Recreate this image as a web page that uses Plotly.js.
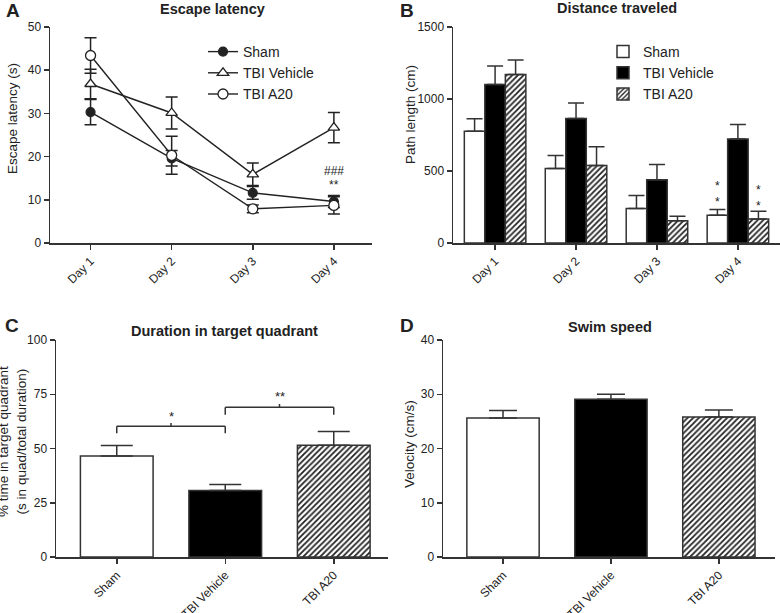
<!DOCTYPE html>
<html>
<head>
<meta charset="utf-8">
<script src="https://cdn.plot.ly/plotly-3.0.1.min.js"></script>
<style>html,body{margin:0;padding:0;background:#fff;}#chart{width:780px;height:613px;}</style>
</head>
<body>
<div id="chart"></div>
<script>
// ---------- Data ----------
const days = ['Day 1', 'Day 2', 'Day 3', 'Day 4'];
const groups = ['Sham', 'TBI Vehicle', 'TBI A20'];

// A: Escape latency (s), mean and SEM
const latSham = [30.3, 19.6, 11.6, 9.6];
const latShamErr = [2.9, 1.8, 1.5, 1.4];
const latVeh = [36.8, 30.1, 15.9, 26.7];
const latVehErr = [3.4, 3.7, 2.6, 3.5];
const latA20 = [43.4, 20.3, 7.9, 8.7];
const latA20Err = [4.1, 4.4, 0.9, 2.0];

// B: Path length (cm)
const pathSham = [776, 518, 240, 192];
const pathShamErr = [86, 90, 90, 41];
const pathVeh = [1100, 864, 439, 723];
const pathVehErr = [130, 109, 106, 100];
const pathA20 = [1170, 539, 155, 166];
const pathA20Err = [101, 129, 30, 54];

// C: % time in target quadrant (Sham, TBI Vehicle, TBI A20)
const quadPct = [46.6, 30.6, 51.5];
const quadErr = [4.8, 2.8, 6.3];

// D: Swim speed (cm/s)
const speed = [25.6, 29.1, 25.8];
const speedErr = [1.4, 0.9, 1.3];

// ---------- Styling ----------
const FONT = 'Liberation Sans, Arial, Helvetica, sans-serif';
const INK = '#222';
const AX = '#333';
const W = 780, H = 613;
const px = v => v / W;
const py = v => 1 - v / H;

const lineErr = (arr, w) => ({type: 'data', array: arr, visible: true, color: INK, thickness: 1.5, width: w});
const upErr = (arr, w) => ({type: 'data', array: arr, arrayminus: arr.map(() => 0), symmetric: false, visible: true, color: AX, thickness: 1.5, width: w});
const hatch = {shape: '/', fgcolor: '#222', bgcolor: '#fff', size: 4, solidity: 0.45};
const fills = ['#fff', '#000', '#fff'];

const traces = [
  // A
  {type: 'scatter', mode: 'lines+markers', name: 'Sham', x: days, y: latSham, error_y: lineErr(latShamErr, 6),
   line: {color: INK, width: 1.4}, marker: {symbol: 'circle', size: 9, color: INK, line: {color: INK, width: 1.2}},
   xaxis: 'x', yaxis: 'y', legend: 'legend'},
  {type: 'scatter', mode: 'lines+markers', name: 'TBI Vehicle', x: days, y: latVeh, error_y: lineErr(latVehErr, 6),
   line: {color: INK, width: 1.4}, marker: {symbol: 'triangle-up', size: 10, color: '#fff', line: {color: INK, width: 1.3}},
   xaxis: 'x', yaxis: 'y', legend: 'legend'},
  {type: 'scatter', mode: 'lines+markers', name: 'TBI A20', x: days, y: latA20, error_y: lineErr(latA20Err, 6),
   line: {color: INK, width: 1.4}, marker: {symbol: 'circle', size: 10, color: '#fff', line: {color: INK, width: 1.3}},
   xaxis: 'x', yaxis: 'y', legend: 'legend'},
  // B
  {type: 'bar', name: 'Sham', x: days, y: pathSham, error_y: upErr(pathShamErr, 8),
   marker: {color: '#fff', line: {color: AX, width: 1.5}}, xaxis: 'x2', yaxis: 'y2', legend: 'legend2'},
  {type: 'bar', name: 'TBI Vehicle', x: days, y: pathVeh, error_y: upErr(pathVehErr, 8),
   marker: {color: '#000', line: {color: AX, width: 1.5}}, xaxis: 'x2', yaxis: 'y2', legend: 'legend2'},
  {type: 'bar', name: 'TBI A20', x: days, y: pathA20, error_y: upErr(pathA20Err, 8),
   marker: {color: '#fff', pattern: hatch, line: {color: AX, width: 1.5}}, xaxis: 'x2', yaxis: 'y2', legend: 'legend2'}
];

// C and D: one trace per group so that the hatched bar gets its pattern
[[quadPct, quadErr, 16, 'x3', 'y3'], [speed, speedErr, 14, 'x4', 'y4']].forEach(([vals, errs, cap, xa, ya]) => {
  groups.forEach((g, i) => {
    const m = {color: fills[i], line: {color: AX, width: 1.5}};
    if (i === 2) m.pattern = hatch;
    traces.push({type: 'bar', x: [g], y: [vals[i]], width: 0.67, offsetgroup: xa, error_y: upErr([errs[i]], cap),
      showlegend: false, marker: m, xaxis: xa, yaxis: ya});
  });
});

const baseAxis = {
  showline: true, linecolor: AX, linewidth: 1.5, ticks: 'outside', ticklen: 5, tickwidth: 1.5, tickcolor: AX,
  showgrid: false, zeroline: false, tickfont: {family: FONT, size: 12, color: INK}, fixedrange: true
};
const xAx = (dom, rng, anchor, cats) => Object.assign({}, baseAxis, {domain: dom, range: rng, anchor: anchor, tickangle: -45,
  type: 'category', categoryorder: 'array', categoryarray: cats, tickfont: {family: FONT, size: 12, color: INK}});
const yAx = (dom, rng, dtick, anchor) => Object.assign({}, baseAxis, {domain: dom, range: rng, dtick: dtick, anchor: anchor});

const topDom = [py(243), py(27)];
const botDom = [py(557), py(340)];

const ann = (text, x, y, size, xref, yref, extra) => Object.assign({text: text, x: x, y: y, xref: xref || 'paper', yref: yref || 'paper',
  xanchor: 'center', yanchor: 'middle', showarrow: false, font: {family: FONT, size: size, color: INK}}, extra || {});
const yTitle = (text, x, y) => ann(text, px(x), py(y), 13.5, null, null, {textangle: -90});

const annotations = [
  ann('<b>A</b>', px(4), py(11), 19, null, null, {xanchor: 'left'}),
  ann('<b>B</b>', px(398), py(11), 19, null, null, {xanchor: 'left'}),
  ann('<b>C</b>', px(3), py(326), 19, null, null, {xanchor: 'left'}),
  ann('<b>D</b>', px(398), py(326), 19, null, null, {xanchor: 'left'}),
  ann('<b>Escape latency</b>', px(213), py(9), 14.5),
  ann('<b>Distance traveled</b>', px(617), py(8), 14.5),
  ann('<b>Duration in target quadrant</b>', px(225), py(331), 14.5),
  ann('<b>Swim speed</b>', px(610), py(327), 14.5),
  yTitle('Escape latency (s)', 13, 119),
  yTitle('Path length (cm)', 411, 115),
  yTitle('% time in target quadrant<br>(s in quad/total duration)', 12, 442),
  yTitle('Velocity (cm/s)', 409, 444),
  // significance marks
  ann('###', 3, latSham[3] + 7.0, 12, 'x', 'y'),
  ann('**', 3, latSham[3] + 3.8, 12, 'x', 'y'),
  ann('*<br>*', 2.747, pathSham[3] + 150, 12, 'x2', 'y2'),
  ann('*<br>*', 3.253, pathA20[3] + 150, 12, 'x2', 'y2'),
  ann('*', 0.5, 64.8, 13, 'x3', 'y3'),
  ann('**', 1.5, 74.0, 13, 'x3', 'y3')
];

const bl = {type: 'line', xref: 'x3', yref: 'y3', line: {color: AX, width: 1.5}};
const seg = (x0, y0, x1, y1) => Object.assign({}, bl, {x0: x0, y0: y0, x1: x1, y1: y1});
const shapes = [
  seg(0, 57.0, 0, 60.3), seg(0, 60.3, 1, 60.3), seg(1, 60.3, 1, 57.0), seg(0.5, 60.3, 0.5, 61.8),
  seg(1, 65.5, 1, 69.0), seg(1, 69.0, 2, 69.0), seg(2, 69.0, 2, 65.5), seg(1.5, 69.0, 1.5, 70.5)
];

const legendBase = {bgcolor: 'rgba(0,0,0,0)', borderwidth: 0, font: {family: FONT, size: 14, color: INK},
  xanchor: 'left', yanchor: 'top', itemwidth: 30, tracegroupgap: 0};

const layout = {
  width: W, height: H, margin: {l: 0, r: 0, t: 0, b: 0}, paper_bgcolor: '#fff', plot_bgcolor: 'rgba(0,0,0,0)',
  font: {family: FONT, color: INK},
  barmode: 'group', bargap: 0.24, bargroupgap: 0,
  xaxis: xAx([px(50), px(372)], [-0.5, 3.47], 'y', days),
  yaxis: yAx(topDom, [0, 50], 10, 'x'),
  xaxis2: xAx([px(453), 1], [-0.52, 3.52], 'y2', days),
  yaxis2: yAx(topDom, [0, 1500], 500, 'x2'),
  xaxis3: xAx([px(56), px(388)], [-0.56, 2.5], 'y3', groups),
  yaxis3: yAx(botDom, [0, 100], 25, 'x3'),
  xaxis4: xAx([px(443), px(775)], [-0.556, 2.52], 'y4', groups),
  yaxis4: yAx(botDom, [0, 40], 10, 'x4'),
  legend: Object.assign({}, legendBase, {x: px(203), y: py(36)}),
  legend2: Object.assign({}, legendBase, {x: px(603), y: py(36)}),
  annotations: annotations,
  shapes: shapes,
  showlegend: true
};

Plotly.newPlot('chart', traces, layout, {displayModeBar: false, staticPlot: true});
</script>
</body>
</html>
